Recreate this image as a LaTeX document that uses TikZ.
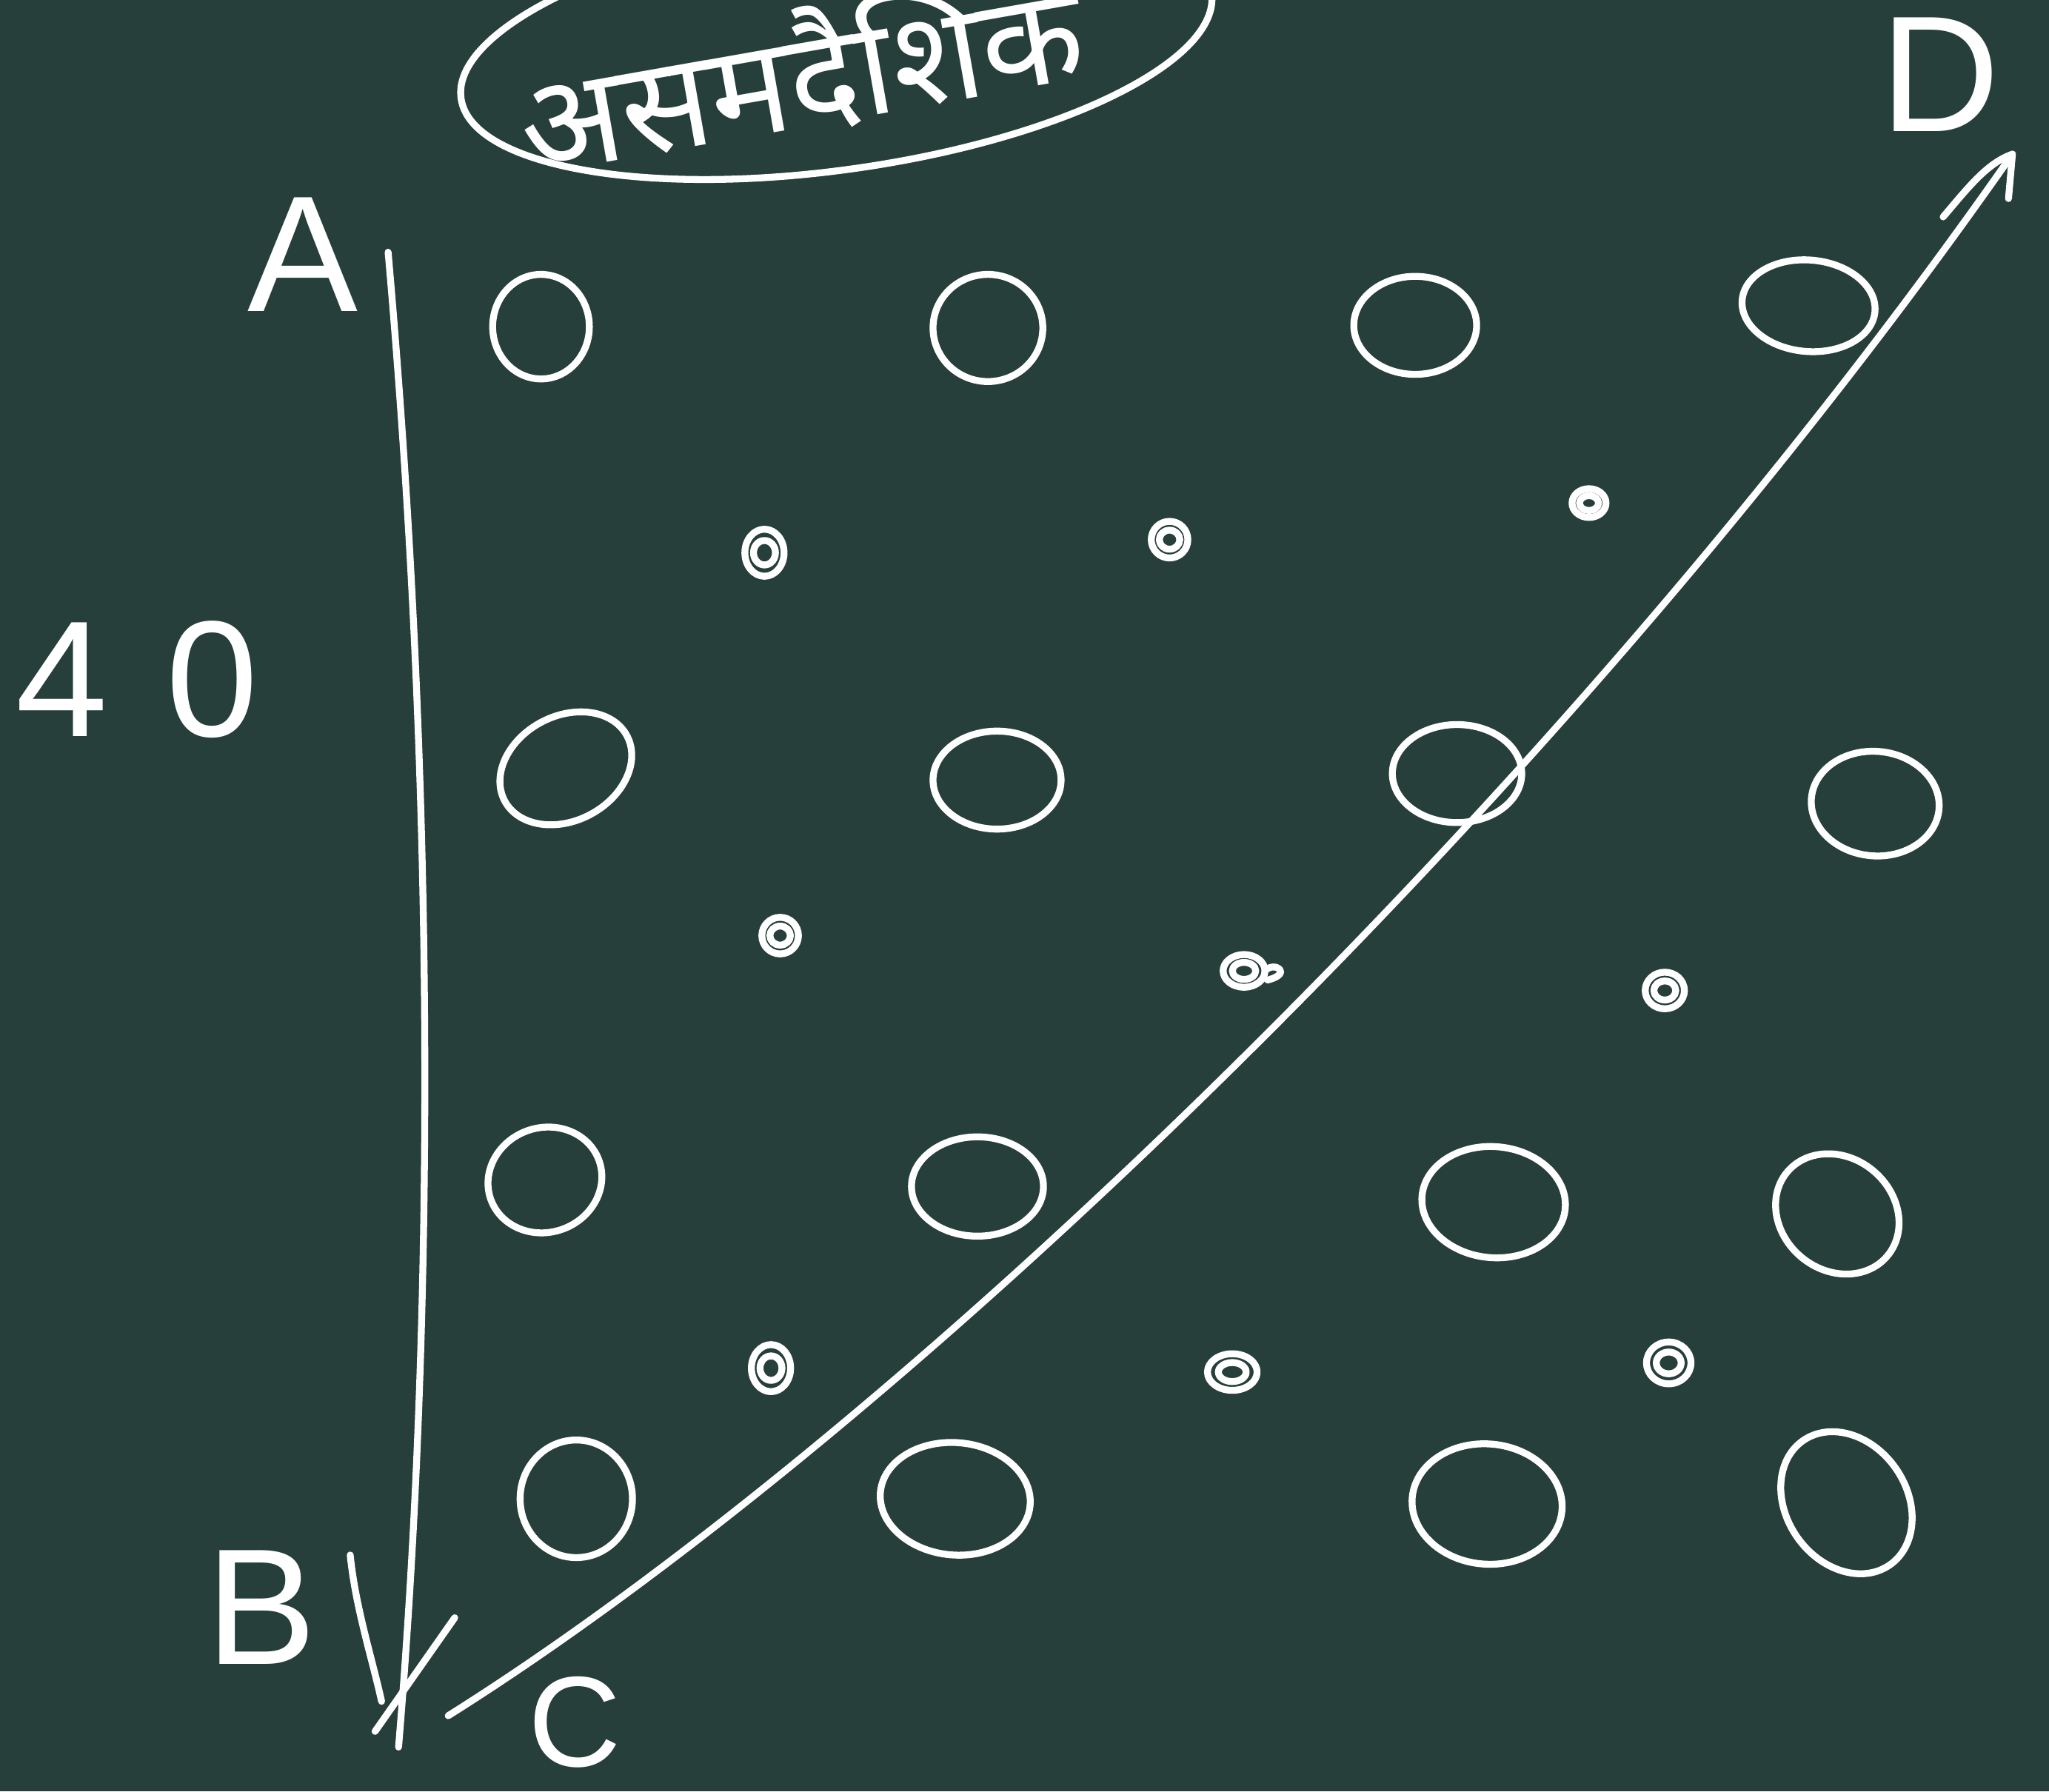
\documentclass[tikz,border=0pt]{standalone}
\usepackage{fontspec}
\setmainfont{Liberation Sans}
\newfontfamily\deva[Script=Devanagari]{Noto Sans}
\usetikzlibrary{shapes.geometric}
\definecolor{board}{RGB}{38,63,58}
\tikzset{
  chalk/.style={draw=white, line width=1.5pt, line cap=round, line join=round},
  atom/.style={chalk, ellipse, inner sep=0pt, outer sep=0pt},
  lab/.style={text=white, inner sep=0pt, font=\fontsize{36}{40}\selectfont},
}
\newcommand{\atomnode}[6]{\node[atom, minimum width=#4*0.1mm, minimum height=#5*0.1mm, rotate=#6] (#1) at (#2,#3) {};}
\newcommand{\dotnode}[5]{\node[atom, minimum width=#4*0.1mm, minimum height=#5*0.1mm] (#1) at (#2,#3) {};
  \draw[chalk] (#1.center) ellipse [x radius=#4*0.28, y radius=#5*0.26];}
\begin{document}
\begin{tikzpicture}[x=0.1mm,y=-0.1mm]
\fill[board] (0,0) rectangle (1568,1371);
\useasboundingbox (0,0) rectangle (1568,1371);

% heading
\node[text=white, inner sep=0pt, rotate=10] (title) at (612,55) {\deva\fontsize{29}{32}\selectfont असमदैशिक};
\node[chalk, ellipse, minimum width=580*0.1mm, minimum height=190*0.1mm, rotate=8, inner sep=0pt] (ring) at (640,35) {};

% labels
\node[lab] (A) at (232,195) {A};
\node[lab] (B) at (200,1230) {B};
\node[lab, font=\fontsize{28}{32}\selectfont] (C) at (440,1318) {C};
\node[lab] (D) at (1485,57) {D};
\node[lab] (forty) at (105,520) {4\hspace{4.5mm}0};

% big atoms
\atomnode{c11}{414}{250}{74}{80}{0}
\atomnode{c12}{756}{251}{84}{82}{0}
\atomnode{c13}{1083}{249}{94}{75}{0}
\atomnode{c14}{1384}{234}{102}{70}{-5}
\atomnode{c21}{433}{588}{106}{80}{28}
\atomnode{c22}{763}{597}{98}{75}{0}
\atomnode{c23}{1115}{592}{99}{75}{0}
\atomnode{c24}{1435}{615}{98}{80}{-5}
\atomnode{c31}{417}{903}{88}{80}{20}
\atomnode{c32}{748}{908}{101}{76}{0}
\atomnode{c33}{1143}{920}{110}{85}{-5}
\atomnode{c34}{1406}{929}{100}{86}{-40}
\atomnode{c41}{441}{1147}{86}{90}{0}
\atomnode{c42}{731}{1147}{115}{86}{-5}
\atomnode{c43}{1138}{1151}{115}{92}{-5}
\atomnode{c44}{1413}{1150}{116}{92}{-55}

% small atoms
\dotnode{d11}{585}{423}{30}{36}
\dotnode{d12}{895}{413}{28}{28}
\dotnode{d13}{1216}{385}{26}{22}
\dotnode{d21}{597}{716}{28}{28}
\dotnode{d22}{952}{743}{32}{25}
\draw[chalk] (d22.east) .. controls (975,735) and (990,745) .. (970,750);
\dotnode{d23}{1274}{758}{30}{28}
\dotnode{d31}{590}{1047}{30}{36}
\dotnode{d32}{943}{1050}{38}{28}
\dotnode{d33}{1277}{1043}{34}{32}

% A -> B
\coordinate (ab1) at (297,193);
\coordinate (ab2) at (305,1337);
\draw[chalk] (ab1) .. controls (333,600) and (333,1000) .. (ab2);
\coordinate (bl1) at (268,1190);
\coordinate (bl2) at (292,1302);
\coordinate (br1) at (348,1238);
\coordinate (br2) at (287,1325);
\draw[chalk] (bl1) .. controls (272,1230) and (285,1270) .. (bl2);
\draw[chalk] (br1) -- (br2);

% C -> D
\coordinate (cd1) at (343,1313);
\coordinate (cd2) at (1540,118);
\draw[chalk] (cd1) .. controls (690,1095) and (1200,605) .. (cd2);
\coordinate (dl) at (1487,166);
\coordinate (dr) at (1537,152);
\draw[chalk] (dl) .. controls (1505,145) and (1520,125) .. (cd2) -- (dr);
\end{tikzpicture}
\end{document}
